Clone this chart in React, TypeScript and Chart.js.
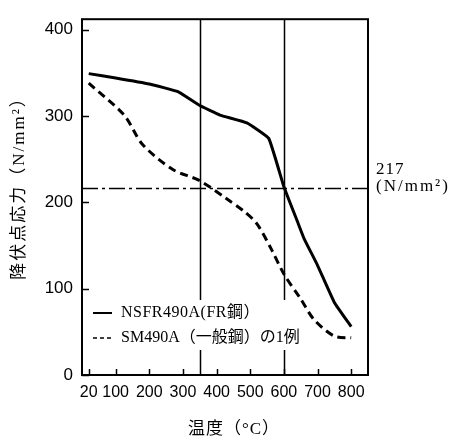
import React, { useEffect, useRef } from "react";
import { Chart, registerables } from "chart.js";

Chart.register(...registerables);

// Data
const nsfrTemps = [20, 100, 200, 285, 350, 410, 490, 555, 600, 640, 660, 700, 750, 800];
const nsfrStress = [349, 344, 337, 328, 312, 301, 292, 274, 218, 178, 158, 127, 84, 56];
const smTemps = [20, 125, 180, 270, 350, 430, 480, 520, 565, 600, 650, 690, 750, 800];
const smStress = [338, 301, 267, 238, 225, 204, 190, 175, 144, 117, 88, 64, 45, 43];
const xTicks = [20, 100, 200, 300, 400, 500, 600, 700, 800];
const yTicks = [0, 100, 200, 300, 400];
const refTemps = [350, 600];
const refStress = 217;
const seriesLabels = ["NSFR490A(FR鋼）", "SM490A（一般鋼）の1例"];
const yTitle = "降伏点応力（N/mm²）";
const xTitle = "温度（°C）";
const refLabel = ["217", "(N/mm²)"];

const SERIF = '"Liberation Serif", "Noto Sans CJK JP", serif';
const SANS = '"Liberation Sans", Arial, sans-serif';

const decorPlugin = {
  id: "decor",
  beforeDatasetsDraw(chart: any) {
    const { ctx, chartArea: a, scales } = chart;
    const xs = scales.x;
    const ys = scales.y;
    ctx.save();
    ctx.strokeStyle = "#000";
    ctx.lineWidth = 1.5;
    refTemps.forEach((t) => {
      const px = Math.round(xs.getPixelForValue(t)) + 0.5;
      ctx.beginPath();
      ctx.moveTo(px, a.top);
      ctx.lineTo(px, a.bottom);
      ctx.stroke();
    });
    const py = Math.round(ys.getPixelForValue(refStress)) + 0.5;
    ctx.setLineDash([16, 4, 3, 4]);
    ctx.beginPath();
    ctx.moveTo(a.left, py);
    ctx.lineTo(a.right, py);
    ctx.stroke();
    ctx.restore();
  },
  afterDatasetsDraw(chart: any) {
    const { ctx, chartArea: a, scales } = chart;
    const xs = scales.x;
    const ys = scales.y;
    ctx.save();
    // legend
    ctx.fillStyle = "#fff";
    ctx.fillRect(90, 300, 210, 50);
    ctx.strokeStyle = "#000";
    ctx.fillStyle = "#000";
    ctx.lineWidth = 2;
    ctx.beginPath();
    ctx.moveTo(93, 313);
    ctx.lineTo(112, 313);
    ctx.stroke();
    ctx.setLineDash([4, 3]);
    ctx.lineWidth = 1.5;
    ctx.beginPath();
    ctx.moveTo(93, 338);
    ctx.lineTo(113, 338);
    ctx.stroke();
    ctx.setLineDash([]);
    ctx.font = `16px ${SERIF}`;
    ctx.textAlign = "left";
    ctx.textBaseline = "middle";
    (ctx as any).letterSpacing = "0.5px";
    ctx.fillText(seriesLabels[0], 121, 313);
    (ctx as any).letterSpacing = "0px";
    ctx.fillText(seriesLabels[1], 121, 338);

    // frame
    ctx.lineWidth = 2;
    ctx.strokeRect(a.left, a.top, a.right - a.left, a.bottom - a.top);

    // inner ticks
    ctx.lineWidth = 1.5;
    xTicks.forEach((t) => {
      const px = Math.round(xs.getPixelForValue(t)) + 0.5;
      ctx.beginPath();
      ctx.moveTo(px, a.bottom);
      ctx.lineTo(px, a.bottom - 6);
      ctx.stroke();
    });
    yTicks.forEach((v) => {
      const py = Math.round(ys.getPixelForValue(v)) + 0.5;
      ctx.beginPath();
      ctx.moveTo(a.left, py);
      ctx.lineTo(a.left + 7, py);
      ctx.stroke();
    });

    // right annotation
    ctx.font = `17px ${SERIF}`;
    ctx.textAlign = "left";
    ctx.textBaseline = "middle";
    (ctx as any).letterSpacing = "1px";
    ctx.fillText(refLabel[0], a.right + 8, 170);
    (ctx as any).letterSpacing = "2px";
    ctx.fillText(refLabel[1], a.right + 8, 187);

    // x title
    (ctx as any).letterSpacing = "1px";
    ctx.textAlign = "center";
    ctx.fillText(xTitle, 234, 430);

    // y title (rotated)
    ctx.save();
    ctx.translate(20, 184);
    ctx.rotate(-Math.PI / 2);
    ctx.font = `17px ${SERIF}`;
    (ctx as any).letterSpacing = "2px";
    ctx.textAlign = "center";
    ctx.fillText(yTitle, 0, 0);
    ctx.restore();

    ctx.restore();
  },
};

export default function App() {
  const ref = useRef<HTMLCanvasElement | null>(null);
  useEffect(() => {
    if (!ref.current) return;
    const chart = new Chart(ref.current, {
      type: "line",
      data: {
        datasets: [
          {
            label: seriesLabels[0],
            data: nsfrTemps.map((t, i) => ({ x: t, y: nsfrStress[i] })),
            borderColor: "#000",
            borderWidth: 3,
            pointRadius: 0,
            tension: 0.1,
            fill: false,
          },
          {
            label: seriesLabels[1],
            data: smTemps.map((t, i) => ({ x: t, y: smStress[i] })),
            borderColor: "#000",
            borderWidth: 3,
            borderDash: [8, 5],
            pointRadius: 0,
            tension: 0.3,
            fill: false,
          },
        ],
      },
      options: {
        animation: false,
        responsive: false,
        maintainAspectRatio: false,
        layout: { padding: { left: 0, right: 91, top: 8, bottom: 0 } },
        plugins: { legend: { display: false }, tooltip: { enabled: false } },
        scales: {
          x: {
            type: "linear",
            min: 0,
            max: 850,
            afterBuildTicks: (s: any) => {
              s.ticks = xTicks.map((v) => ({ value: v }));
            },
            afterFit: (s: any) => {
              s.height = 68;
            },
            grid: { display: false, drawTicks: false },
            border: { display: false },
            ticks: {
              padding: 8,
              color: "#000",
              font: { family: SANS, size: 16 },
              maxRotation: 0,
              autoSkip: false,
            },
          },
          y: {
            type: "linear",
            min: 0,
            max: 412,
            afterBuildTicks: (s: any) => {
              s.ticks = yTicks.map((v) => ({ value: v }));
            },
            afterFit: (s: any) => {
              s.width = 82;
            },
            grid: { display: false, drawTicks: false },
            border: { display: false },
            ticks: {
              padding: 9,
              color: "#000",
              font: { family: SANS, size: 17 },
              autoSkip: false,
            },
          },
        },
      },
      plugins: [decorPlugin],
    });
    return () => chart.destroy();
  }, []);
  return (
    <div style={{ position: "fixed", left: 0, top: 0, width: 459, height: 443, background: "#fff" }}>
      <canvas ref={ref} width={459} height={443} style={{ display: "block" }} />
    </div>
  );
}
